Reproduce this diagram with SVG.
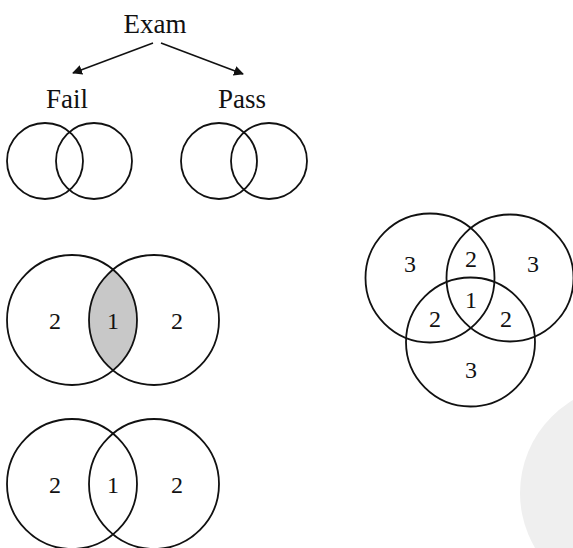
<svg xmlns="http://www.w3.org/2000/svg" width="573" height="548" viewBox="0 0 573 548">
<style>
.c{fill:none;stroke:#111;stroke-width:1.8}
.t{font-family:"Liberation Serif","Times New Roman",serif;fill:#111;text-anchor:middle}
.lbl{font-size:27px}
.num{font-size:24px}
.ln{stroke:#111;stroke-width:1.6;fill:none}
</style>
<defs>
<marker id="ah" viewBox="0 0 10 10" refX="9" refY="5" markerWidth="10" markerHeight="10" markerUnits="userSpaceOnUse" orient="auto">
<path d="M0,0 L10,5 L0,10 Z" fill="#111"/>
</marker>
</defs>
<rect width="573" height="548" fill="#fff"/>
<circle cx="628" cy="493" r="108" fill="#efefef"/>
<g id="exam"><text class="t lbl" x="155" y="33">Exam</text></g>
<g id="connectors">
<line class="ln" x1="153" y1="43" x2="73" y2="73" marker-end="url(#ah)"/>
<line class="ln" x1="161" y1="43" x2="243" y2="74" marker-end="url(#ah)"/>
</g>
<g id="fail">
<text class="t lbl" x="67" y="108">Fail</text>
<circle class="c" cx="45" cy="161" r="38"/>
<circle class="c" cx="94" cy="161" r="38"/>
</g>
<g id="pass">
<text class="t lbl" x="242" y="108">Pass</text>
<circle class="c" cx="219" cy="161" r="38"/>
<circle class="c" cx="269" cy="161" r="38"/>
</g>
<g id="venn-shaded">
<path d="M113,269.6 A65,65 0 0 1 113,370.4 A65,65 0 0 1 113,269.6 Z" fill="#c8c8c8"/>
<circle class="c" cx="72" cy="320" r="65"/>
<circle class="c" cx="154" cy="320" r="65"/>
<text class="t num" x="55" y="329">2</text>
<text class="t num" x="113" y="329">1</text>
<text class="t num" x="177" y="329">2</text>
</g>
<g id="venn-plain">
<circle class="c" cx="72" cy="484" r="65"/>
<circle class="c" cx="154" cy="484" r="65"/>
<text class="t num" x="55" y="493">2</text>
<text class="t num" x="113" y="493">1</text>
<text class="t num" x="177" y="493">2</text>
</g>
<g id="venn-three">
<circle class="c" cx="430" cy="278" r="64.5"/>
<circle class="c" cx="510" cy="278" r="63.5"/>
<circle class="c" cx="470.5" cy="342" r="64.5"/>
<text class="t num" x="410" y="272">3</text>
<text class="t num" x="471" y="267">2</text>
<text class="t num" x="533" y="272">3</text>
<text class="t num" x="471" y="308">1</text>
<text class="t num" x="435" y="327">2</text>
<text class="t num" x="506" y="327">2</text>
<text class="t num" x="471" y="378">3</text>
</g>
</svg>
